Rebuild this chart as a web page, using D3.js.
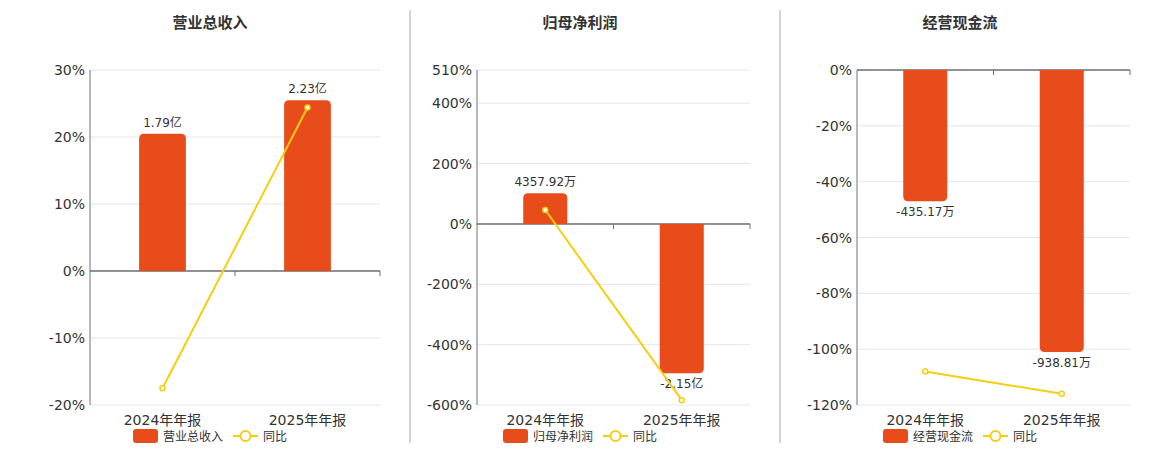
<!DOCTYPE html>
<html><head><meta charset="utf-8">
<script src="https://cdn.jsdelivr.net/npm/d3@7"></script>
<style>body{margin:0;background:#fff;font-family:"DejaVu Sans","Noto Sans CJK SC",sans-serif}</style>
</head><body><svg id="c" width="1160" height="450"></svg>
<script>
const categories = ["2024年年报","2025年年报"];
const titles = ["营业总收入","归母净利润","经营现金流"];
const barValues = [[20.5,25.5],[102,-495],[-47,-101]];
const barLabels = [["1.79亿","2.23亿"],["4357.92万","-2.15亿"],["-435.17万","-938.81万"]];
const yoyValues = [[-17.5,24.4],[46,-584],[-108,-116]];
const yTicks = [[30,20,10,0,-10,-20],[510,400,200,0,-200,-400,-600],[0,-20,-40,-60,-80,-100,-120]];
const panelX = [[90,380],[477,750],[857,1130]];
const titleX = [210,580,960];
const legendX = [133,503,883];

const svg = d3.select("#c");
const plotTop=70, plotBottom=405;
[410,780].forEach(x=>svg.append("line").attr("x1",x).attr("x2",x).attr("y1",10).attr("y2",443).attr("stroke","#aaa"));

titles.forEach((t,i)=>{
  const [x0,x1]=panelX[i];
  const tk=yTicks[i];
  const y=d3.scaleLinear().domain([d3.min(tk),d3.max(tk)]).range([plotBottom,plotTop]);
  const x=d3.scaleBand().domain(categories).range([x0,x1]);
  const g=svg.append("g");
  g.append("text").attr("x",titleX[i]).attr("y",28).attr("text-anchor","middle").attr("font-size",15).attr("font-weight","bold").attr("fill","#333").text(t);
  tk.forEach(v=>{
    g.append("line").attr("x1",x0).attr("x2",x1).attr("y1",y(v)).attr("y2",y(v)).attr("stroke","#e3e6ef");
    g.append("text").attr("x",x0-5).attr("y",y(v)+5).attr("text-anchor","end").attr("font-size",14).attr("fill","#333").text(v+"%");
  });
  g.append("line").attr("x1",x0).attr("x2",x0).attr("y1",plotTop).attr("y2",plotBottom).attr("stroke","#6e7079");
  const y0=y(0);
  g.append("line").attr("x1",x0).attr("x2",x1).attr("y1",y0).attr("y2",y0).attr("stroke","#6e7079").attr("stroke-width",1.5);
  [x0+x.bandwidth(),x1].forEach(tx=>g.append("line").attr("x1",tx).attr("x2",tx).attr("y1",y0).attr("y2",y0+5).attr("stroke","#6e7079"));
  const bw=x.bandwidth()/3.1;
  categories.forEach((c,j)=>{
    const v=barValues[i][j], cx=x(c)+x.bandwidth()/2;
    const yv=y(v), r=5;
    const xl=cx-bw/2, xr=cx+bw/2;
    let d;
    if(v>=0) d=`M${xl},${y0}V${yv+r}Q${xl},${yv} ${xl+r},${yv}H${xr-r}Q${xr},${yv} ${xr},${yv+r}V${y0}Z`;
    else d=`M${xl},${y0}V${yv-r}Q${xl},${yv} ${xl+r},${yv}H${xr-r}Q${xr},${yv} ${xr},${yv-r}V${y0}Z`;
    g.append("path").attr("d",d).attr("fill","#e84c1b");
    g.append("text").attr("x",cx).attr("y",v>=0?yv-7:yv+15).attr("text-anchor","middle").attr("font-size",12).attr("fill","#333").text(barLabels[i][j]);
    g.append("text").attr("x",cx).attr("y",425).attr("text-anchor","middle").attr("font-size",14).attr("fill","#333").text(c);
  });
  const line=d3.line().x((d,j)=>x(categories[j])+x.bandwidth()/2).y(d=>y(d));
  g.append("path").attr("d",line(yoyValues[i])).attr("fill","none").attr("stroke","#f5cf0f").attr("stroke-width",2);
  yoyValues[i].forEach((v,j)=>g.append("circle").attr("cx",x(categories[j])+x.bandwidth()/2).attr("cy",y(v)).attr("r",2.5).attr("fill","#fff").attr("stroke","#f5cf0f").attr("stroke-width",1.5));
  const lx=legendX[i];
  g.append("rect").attr("x",lx).attr("y",429).attr("width",25).attr("height",14).attr("rx",3).attr("fill","#e84c1b");
  g.append("text").attr("x",lx+30).attr("y",441).attr("font-size",12).attr("fill","#333").text(t);
  const l2=lx+100;
  g.append("line").attr("x1",l2).attr("x2",l2+25).attr("y1",436).attr("y2",436).attr("stroke","#f5cf0f").attr("stroke-width",2);
  g.append("circle").attr("cx",l2+12.5).attr("cy",436).attr("r",5).attr("fill","#fff").attr("stroke","#f5cf0f").attr("stroke-width",2);
  g.append("text").attr("x",l2+30).attr("y",441).attr("font-size",12).attr("fill","#333").text("同比");
});
</script></body></html>
